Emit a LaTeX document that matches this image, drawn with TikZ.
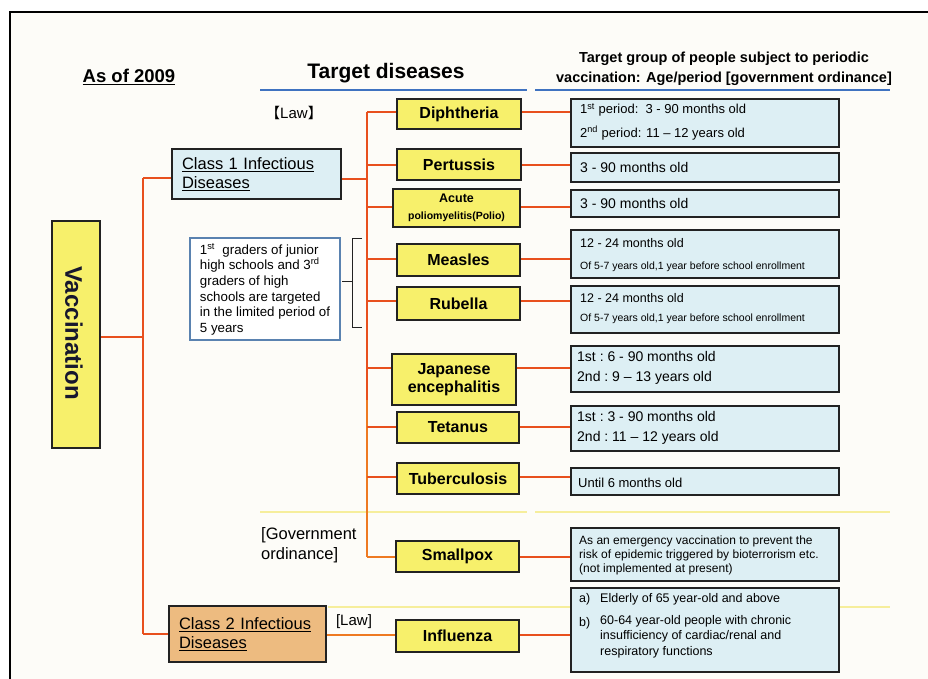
\documentclass[tikz,border=0pt]{standalone}
\usepackage{fontspec}
\setmainfont{Liberation Sans}
\newfontfamily\cjkfont{Noto Sans CJK SC}

\definecolor{dyellow}{HTML}{F7F06B}
\definecolor{lblue}{HTML}{DDEFF4}
\definecolor{tan}{HTML}{EDBB80}
\definecolor{boxline}{HTML}{222222}
\definecolor{conred}{HTML}{E8501E}
\definecolor{conorange}{HTML}{EE7A22}
\definecolor{hdrblue}{HTML}{3F72C0}
\definecolor{sepyellow}{HTML}{F6EE9C}
\definecolor{gboxline}{HTML}{5A82B0}
\definecolor{paper}{HTML}{FDFCF8}
\definecolor{vacink}{HTML}{17172E}

\newcommand{\fs}[2]{\fontsize{#1}{#2}\selectfont}

\begin{document}
\begin{tikzpicture}[x=1pt,y=-1pt,
  dis/.style={draw=boxline, fill=dyellow, line width=1.5pt, inner sep=0pt,
              font=\bfseries\fs{16}{18}, align=center},
  info/.style={draw=boxline, fill=lblue, line width=1.5pt, inner sep=0pt,
               minimum width=268pt},
  itxt/.style={anchor=west, inner sep=0pt, font=\fs{14}{16}},
  cbox/.style={draw=boxline, line width=1.5pt, inner ysep=0pt, inner xsep=10pt,
               align=left, font=\fs{16.5}{19.5}},
  conn/.style={draw=conred, line width=2.7pt},
  conn2/.style={draw=conorange, line width=2.7pt},
  hdr/.style={draw=hdrblue, line width=2pt},
  sep/.style={draw=sepyellow, line width=1.6pt},
  plain/.style={inner sep=0pt}]

\useasboundingbox (0,0) rectangle (928,679);
\fill[white] (0,0) rectangle (928,679);
\fill[paper] (11,13) rectangle (928,679);
\draw[line width=2pt, black] (10,679) -- (10,12) -- (928,12);

% headings
\node[plain, font=\bfseries\fs{18.5}{22}] (asof) at (129,77) {\underline{As of 2009}};
\node[plain, font=\bfseries\fs{21}{25}] (tdis) at (386,73) {Target diseases};
\node[plain, font=\bfseries\fs{14.5}{20}, align=center] (tgrp) at (724,69)
  {Target group of people subject to periodic\\vaccination: Age/period [government ordinance]};
\draw[hdr] (260,90) -- (527,90);
\draw[hdr] (535,90) -- (890,90);

% separators
\draw[sep] (260,512) -- (527,512);
\draw[sep] (535,512) -- (890,512);
\draw[sep] (328,607) -- (890,607);

% law / ordinance labels
\node[plain, font=\fs{15}{18}] (lawA) at (294,113)
  {{\cjkfont\fs{14.5}{16}【}Law{\cjkfont\fs{14.5}{16}】}};
\node[plain, anchor=west, font=\fs{16.5}{20}, align=left] (gov) at (261,545)
  {[Government\\ordinance]};
\node[plain, font=\fs{15}{18}] (lawB) at (354,622) {[Law]};

% trunk coordinates
\coordinate (t1a) at (143,178);
\coordinate (t1b) at (143,634);
\coordinate (t2a) at (367,112);
\coordinate (t2m) at (367,400);
\coordinate (t2b) at (367,557);

% main boxes
\node[draw=boxline, fill=dyellow, line width=1.6pt, minimum width=48pt,
      minimum height=227pt, inner sep=0pt] (vac) at (76,334.5) {};
\node[plain, rotate=-90, text=vacink, font=\bfseries\fs{24}{28}] (vactxt) at (74,333) {Vaccination};

\node[cbox, fill=lblue, text width=149pt, minimum height=50pt] (c1) at (256.5,174)
  {\underline{Class 1 Infectious}\\\underline{Diseases}};
\node[cbox, fill=tan, text width=137pt, minimum height=56pt] (c2) at (247.5,634)
  {\underline{Class 2 Infectious}\\\underline{Diseases}};

\node[draw=gboxline, fill=white, line width=1.2pt, minimum width=150pt,
      minimum height=102pt, align=left, inner sep=0pt, font=\fs{13.3}{15.6}] (grad) at (265,289)
  {1\textsuperscript{st}\ \ graders of junior\\high schools and 3\textsuperscript{rd}\\graders of high\\schools are targeted\\in the limited period of\\5 years};

% bracket for measles / rubella
\draw[boxline, line width=1pt] (362,238) -- (352,238) -- (352,327) -- (362,327);
\draw[boxline, line width=1pt] (352,281) -- (342,281);

% connectors
\draw[conn] (vac.east |- 0,337) -- (143,337);
\draw[conn] (t1a) -- (t1b);
\draw[conn] (t1a) -- (c1.west |- t1a);
\draw[conn] (t1b) -- (c2.west |- t1b);
\draw[conn] (c1.east |- 0,179) -- (367,179);
\draw[conn] (t2a) -- (t2m);
\draw[conn2] (t2m) -- (t2b);

% disease boxes
\node[dis, minimum width=124pt, minimum height=30pt] (dip) at (459,114) {Diphtheria};
\node[dis, minimum width=124pt, minimum height=31pt] (per) at (459,164.5) {Pertussis};
\node[dis, minimum width=127pt, minimum height=38pt] (pol) at (456.5,208)
  {{\fs{12.5}{14}Acute}\\[-1pt]{\fs{10.5}{12}poliomyelitis(Polio)}};
\node[dis, minimum width=123pt, minimum height=32pt] (mea) at (458.5,260) {Measles};
\node[dis, minimum width=123pt, minimum height=33pt] (rub) at (458.5,303.5) {Rubella};
\node[dis, minimum width=124pt, minimum height=51pt] (jap) at (454,379.5) {Japanese\\encephalitis};
\node[dis, minimum width=122pt, minimum height=31pt] (tet) at (458,427.5) {Tetanus};
\node[dis, minimum width=122pt, minimum height=31pt] (tub) at (458,478.5) {Tuberculosis};
\node[dis, minimum width=123pt, minimum height=31pt] (sma) at (457.5,556.5) {Smallpox};
\node[dis, minimum width=123pt, minimum height=32pt] (flu) at (457.5,636) {Influenza};

% info boxes
\node[info, minimum height=48pt] (idip) at (705,123) {};
\node[info, minimum height=29pt] (iper) at (705,167.5) {};
\node[info, minimum height=27pt] (ipol) at (705,203.5) {};
\node[info, minimum height=48pt] (imea) at (705,254) {};
\node[info, minimum height=47pt] (irub) at (705,309.5) {};
\node[info, minimum height=46pt] (ijap) at (705,369) {};
\node[info, minimum height=45pt] (itet) at (705,428.5) {};
\node[info, minimum height=27pt] (itub) at (705,481.5) {};
\node[info, minimum height=53pt] (isma) at (705,554.5) {};
\node[info, minimum height=84pt] (iflu) at (705,630) {};

% branches from the second trunk
\foreach \n/\yy in {dip/112, per/165, pol/207, mea/259, rub/301, jap/368, tet/427, tub/477}
  \draw[conn] (367,\yy) -- (\n.west |- 0,\yy);
\draw[conn2] (t2b) -- (sma.west |- t2b);

% links from disease boxes to age groups
\foreach \n/\m/\yy in {dip/idip/112, per/iper/165, pol/ipol/207, mea/imea/259,
                       rub/irub/301, jap/ijap/368, tet/itet/427, tub/itub/477, sma/isma/557}
  \draw[conn] (\n.east |- 0,\yy) -- (\m.west |- 0,\yy);
\draw[conn2] (c2.east |- 0,635) -- (flu.west |- 0,635);
\draw[conn] (flu.east |- 0,635) -- (iflu.west |- 0,635);

% age group texts
\node[itxt, font=\fs{13}{15}] (tdip1) at (580,110) {1\textsuperscript{st} period:\ \ 3 - 90 months old};
\node[itxt, font=\fs{13}{15}] (tdip2) at (580,133) {2\textsuperscript{nd} period: 11 – 12 years old};
\node[itxt] (tper) at (580,167) {3 - 90 months old};
\node[itxt] (tpol) at (580,203) {3 - 90 months old};
\node[itxt, font=\fs{12.5}{14}] (tmea1) at (580,243) {12 - 24 months old};
\node[itxt, font=\fs{10.5}{12}] (tmea2) at (580,267) {Of 5-7 years old,1 year before school enrollment};
\node[itxt, font=\fs{12.5}{14}] (trub1) at (580,298) {12 - 24 months old};
\node[itxt, font=\fs{10.5}{12}] (trub2) at (580,319) {Of 5-7 years old,1 year before school enrollment};
\node[itxt] (tjap1) at (577,356) {1st\ :\ 6 - 90 months old};
\node[itxt] (tjap2) at (577,378) {2nd\ :\ 9 – 13 years old};
\node[itxt] (ttet1) at (577,416) {1st\ :\ 3 - 90 months old};
\node[itxt] (ttet2) at (577,438) {2nd\ :\ 11 – 12 years old};
\node[itxt, font=\fs{13}{15}] (ttub) at (578,483) {Until 6 months old};
\node[itxt, font=\fs{12}{14}, align=left] (tsma) at (579,555)
  {As an emergency vaccination to prevent the\\risk of epidemic triggered by bioterrorism etc.\\(not implemented at present)};
\node[itxt, font=\fs{12.5}{15}] (tflua) at (579,599) {a)};
\node[itxt, font=\fs{12.5}{15}] (tflu1) at (600,599) {Elderly of 65 year-old and above};
\node[itxt, font=\fs{12.5}{15}] (tflub) at (579,623) {b)};
\node[itxt, font=\fs{12.5}{15.5}, align=left, anchor=north west] (tflu2) at (600,615)
  {60-64 year-old people with chronic\\insufficiency of cardiac/renal and\\respiratory functions};

\end{tikzpicture}
\end{document}
